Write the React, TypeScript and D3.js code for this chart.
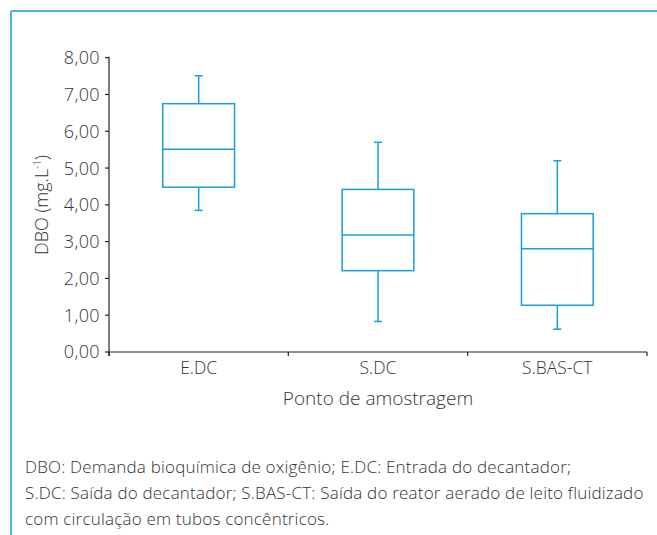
import React from "react";
import * as d3 from "d3";

const categories = ["E.DC", "S.DC", "S.BAS-CT"];
const whiskerLow = [3.85, 0.83, 0.62];
const q1 = [4.48, 2.21, 1.27];
const median = [5.51, 3.18, 2.81];
const q3 = [6.75, 4.42, 3.76];
const whiskerHigh = [7.51, 5.7, 5.2];
const yTicks = [0, 1, 2, 3, 4, 5, 6, 7, 8];
const footnote = [
  "DBO: Demanda bioquímica de oxigênio; E.DC: Entrada do decantador;",
  "S.DC: Saída do decantador; S.BAS-CT: Saída do reator aerado de leito fluidizado",
  "com circulação em tubos concêntricos.",
];

const W = 657;
const H = 535;
const left = 109;
const right = 647;
const top = 57.7;
const bottom = 352;

const FONT = "'Open Sans', Lato, sans-serif";
const TXT = "#333";
const BOX = "#1aa0d8";
const FRAME = "#46b4e2";

export default function App() {
  const x = d3.scaleBand<string>().domain(categories).range([left, right]).paddingInner(0).paddingOuter(0);
  const y = d3.scaleLinear().domain([0, 8]).range([bottom, top]);
  const bw = x.bandwidth() * 0.4;
  const fmt = (v: number) => d3.format(".2f")(v).replace(".", ",");
  const boundaries = [...categories.map((c) => x(c)!), right];

  return (
    <svg width={W} height={H} style={{ position: "absolute", left: 0, top: 0, background: "#fff" }}>
      <rect x={0} y={0} width={W} height={H} fill="#fff" />
      {/* frame */}
      <line x1={11} y1={11} x2={W} y2={11} stroke={FRAME} strokeWidth={2} />
      <line x1={11} y1={11} x2={11} y2={H} stroke={FRAME} strokeWidth={2} />

      {/* y axis */}
      <line x1={left} y1={top - 1} x2={left} y2={bottom + 4} stroke="#222" strokeWidth={1.2} />
      {yTicks.map((t) => (
        <g key={t}>
          <line x1={left - 4} x2={left} y1={y(t)} y2={y(t)} stroke="#222" strokeWidth={1.2} />
          <text x={100} y={y(t)} dy="0.36em" textAnchor="end" fontFamily={FONT} fontWeight={300} fontSize={18} letterSpacing={0.4} fill={TXT}>
            {fmt(t)}
          </text>
        </g>
      ))}
      <text
        transform={`translate(48,${205}) rotate(-90)`}
        textAnchor="middle"
        fontFamily={FONT}
        fontWeight={300}
        fontSize={18}
        fill={TXT}
      >
        DBO (mg.L<tspan dy="-7" fontSize={10}>-1</tspan><tspan dy="7">)</tspan>
      </text>

      {/* x axis */}
      <line x1={left} y1={bottom} x2={right} y2={bottom} stroke="#222" strokeWidth={1.2} />
      {boundaries.map((b, i) => (
        <line key={i} x1={b} x2={b} y1={bottom} y2={bottom + 4} stroke="#222" strokeWidth={1.2} />
      ))}
      {categories.map((c) => (
        <text key={c} x={x(c)! + x.bandwidth() / 2} y={374} textAnchor="middle" fontFamily={FONT} fontWeight={300} fontSize={17.5} fill={TXT}>
          {c}
        </text>
      ))}
      <text x={(left + right) / 2} y={405} textAnchor="middle" fontFamily={FONT} fontWeight={300} fontSize={19} fill={TXT}>
        Ponto de amostragem
      </text>

      {/* boxes */}
      {categories.map((c, i) => {
        const cx = x(c)! + x.bandwidth() / 2;
        return (
          <g key={c} stroke={BOX} strokeWidth={1.5} fill="none">
            <line x1={cx} x2={cx} y1={y(whiskerHigh[i])} y2={y(q3[i])} />
            <line x1={cx} x2={cx} y1={y(q1[i])} y2={y(whiskerLow[i])} />
            <line x1={cx - 4} x2={cx + 4} y1={y(whiskerHigh[i])} y2={y(whiskerHigh[i])} />
            <line x1={cx - 4} x2={cx + 4} y1={y(whiskerLow[i])} y2={y(whiskerLow[i])} />
            <rect x={cx - bw / 2} y={y(q3[i])} width={bw} height={y(q1[i]) - y(q3[i])} />
            <line x1={cx - bw / 2} x2={cx + bw / 2} y1={y(median[i])} y2={y(median[i])} />
          </g>
        );
      })}

      {/* footnote */}
      {footnote.map((l, i) => (
        <text key={i} x={25} y={473 + i * 26} fontFamily={FONT} fontWeight={300} fontSize={17} letterSpacing={0.2} fill={TXT}>
          {l}
        </text>
      ))}
    </svg>
  );
}
